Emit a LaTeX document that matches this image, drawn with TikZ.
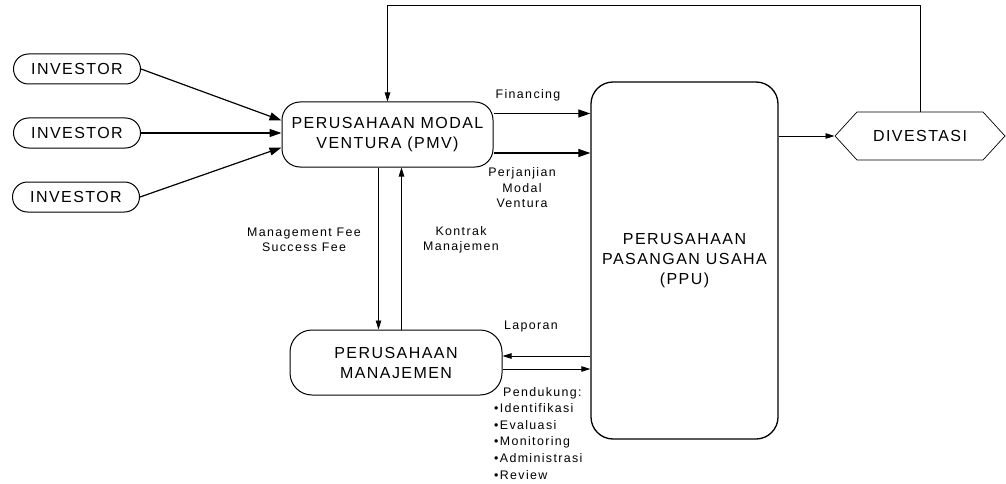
\documentclass[tikz,border=0pt]{standalone}
\usepackage{fontspec}
\setmainfont{Liberation Sans}
\newfontfamily\boxfont[LetterSpace=9]{Liberation Sans}
\newfontfamily\lblfont[LetterSpace=11]{Liberation Sans}
\usetikzlibrary{arrows.meta,shapes.symbols}
\begin{document}
\begin{tikzpicture}[x=1pt,y=-1pt,line join=round,
	pill/.style={draw,line width=1pt,rounded corners=15pt,minimum width=127pt,minimum height=30pt,font=\boxfont\fontsize{16}{20}\selectfont},
	box/.style={draw,line width=1pt,rounded corners=18pt,align=center,font=\boxfont\fontsize{16}{20}\selectfont},
	lbl/.style={align=center,inner sep=0pt,font=\lblfont\fontsize{12.4}{15.5}\selectfont},
	bigarr/.style={-{Triangle[length=12pt,width=8pt]},line width=1.2pt},
	arr/.style={-{Triangle[length=9pt,width=5.5pt]},line width=0.8pt}]
	\useasboundingbox (0,0) rectangle (1006,484);
	% investor
	\node[pill] (inv1) at (77,69) {INVESTOR};
	\node[pill] (inv2) at (77,133) {INVESTOR};
	\node[pill] (inv3) at (76,197) {INVESTOR};
	% perusahaan
	\node[box,minimum width=211pt,minimum height=65pt] (pmv) at (387.5,134.5) {PERUSAHAAN MODAL\\VENTURA (PMV)};
	\node[box,minimum width=212pt,minimum height=65pt,rounded corners=22pt] (pm) at (396,362.5) {PERUSAHAAN\\MANAJEMEN};
	\node[box,minimum width=187pt,minimum height=357pt,rounded corners=22pt,line width=1.3pt] (ppu) at (684.5,260.5) {PERUSAHAAN\\PASANGAN USAHA\\(PPU)};
	\node[draw,signal,signal to=west and east,signal pointer angle=95,line width=0.7pt,minimum width=170pt,minimum height=48pt,font=\boxfont\fontsize{16}{20}\selectfont] (div) at (920,136) {DIVESTASI};
	\coordinate (top) at (0,5);
	% panah
	\draw[bigarr] (inv1.east) -- ([yshift=14pt]pmv.west);
	\draw[bigarr] (inv2.east) -- (inv2.east -| pmv.west);
	\draw[bigarr] (inv3.east) -- ([yshift=-13pt]pmv.west);
	\draw[bigarr] ([yshift=21pt]pmv.east) -- ([yshift=21pt]pmv.east -| ppu.west);
	\draw[bigarr] ([yshift=-18.5pt]pmv.east) -- ([yshift=-18.5pt]pmv.east -| ppu.west);
	\draw[arr] (ppu.east |- div.west) -- (div.west);
	\draw[arr] (div.north) -- (div.north |- top) -| (pmv.north);
	\draw[arr] ([xshift=-9pt]pmv.south) -- ([xshift=-9pt]pmv.south |- pm.north);
	\draw[arr] ([xshift=14pt]pmv.south |- pm.north) -- ([xshift=14pt]pmv.south);
	\draw[arr] ([yshift=6.5pt]pm.east -| ppu.west) -- ([yshift=6.5pt]pm.east);
	\draw[arr] ([yshift=-6.5pt]pm.east) -- ([yshift=-6.5pt]pm.east -| ppu.west);
	% label
	\node[lbl] (fin) at (528,95) {Financing};
	\node[lbl] (perj) at (522,188) {Perjanjian\\Modal\\Ventura};
	\node[lbl] (fee) at (304,240) {Management Fee\\Success Fee};
	\node[lbl] (kontrak) at (461,240) {Kontrak\\Manajemen};
	\node[lbl] (lap) at (531,327) {Laporan};
	\node[lbl,anchor=north west,align=left,font=\lblfont\fontsize{12.4}{16.6}\selectfont] (dukung) at (494,387)
		{\hspace*{9pt}Pendukung:\\\textbullet Identifikasi\\\textbullet Evaluasi\\\textbullet Monitoring\\\textbullet Administrasi\\\textbullet Review};
\end{tikzpicture}
\end{document}
